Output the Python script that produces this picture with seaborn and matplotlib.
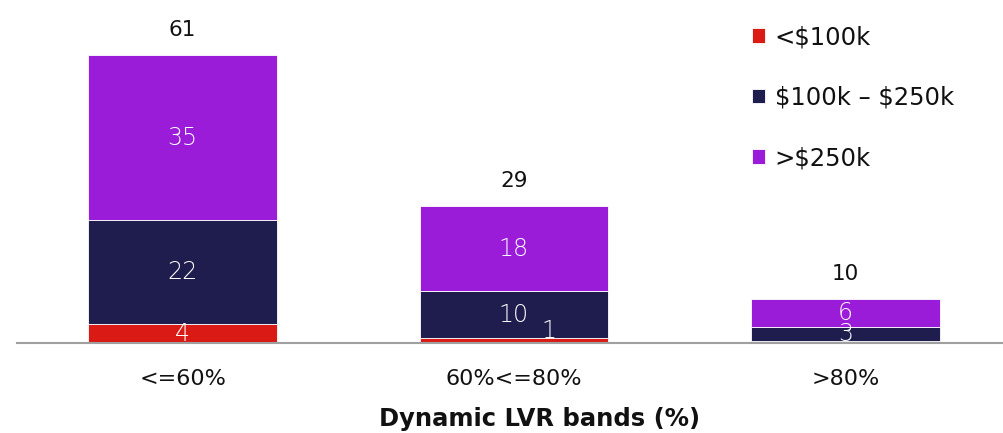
import pandas as pd
import matplotlib.pyplot as plt
import seaborn as sns
import numpy as np

# data
bands = ['<=60%', '60%<=80%', '>80%']
series = [r'<\$100k', r'\$100k – \$250k', r'>\$250k']
under_100k = [4, 1, 0.4]
mid_100_250k = [22, 10, 3]
over_250k = [35, 18, 6]
totals = [61, 29, 10]
colors = ['#DA1A14', '#1F1D4E', '#9A1BD8']

df = pd.DataFrame({'band': bands, series[0]: under_100k,
                   series[1]: mid_100_250k, series[2]: over_250k})

sns.set_theme(style='white')
plt.rcParams['font.family'] = ['DejaVu Sans']

fig = plt.figure(figsize=(10.04, 4.33), dpi=100)
ax = fig.add_axes([17 / 1004, 90 / 433, 994 / 1004, 343 / 433])

bottom = np.zeros(len(bands))
for s, c in zip(series, colors):
    vals = df[s].to_numpy()
    sns.barplot(x=df['band'], y=vals, bottom=bottom, color=c, width=0.57,
                saturation=1, edgecolor='white', linewidth=0.6, ax=ax, label=s)
    for i, v in enumerate(vals):
        if v < 0.9:
            continue
        off = (0, 0)
        if v < 2 and s == series[0]:
            off = (25, 7)  # small segment: label nudged aside like the original
        ax.annotate(f'{v:g}', (i, bottom[i] + v / 2), xytext=off,
                    textcoords='offset points', ha='center', va='center',
                    color='white', fontsize=17, fontweight='light')
    bottom += vals

for i, t in enumerate(totals):
    ax.annotate(str(t), (i, bottom[i]), xytext=(0, 18), textcoords='offset points',
                ha='center', va='center', fontsize=15.5, color='#111111')

ax.set_xlim(-0.5, 2.5)
ax.set_ylim(0, 72.7)
ax.set_yticks([])
for sp in ['top', 'right', 'left']:
    ax.spines[sp].set_visible(False)
ax.spines['bottom'].set_color('#A0A0A0')
ax.spines['bottom'].set_linewidth(1.5)
ax.tick_params(axis='x', length=0, pad=19, labelsize=16, colors='#111111')
ax.set_xlabel('Dynamic LVR bands (%)', fontsize=17.5, fontweight='bold',
              labelpad=13, color='#111111')
ax.xaxis.label.set_x(0.526)
ax.set_ylabel('')

ax.legend(loc='upper left', bbox_to_anchor=(0.717, 0.99), frameon=False,
          fontsize=17.5, handlelength=0.55, handleheight=0.55, handletextpad=0.4,
          labelspacing=1.5, labelcolor='#111111')

plt.savefig('out.png', dpi=100)
